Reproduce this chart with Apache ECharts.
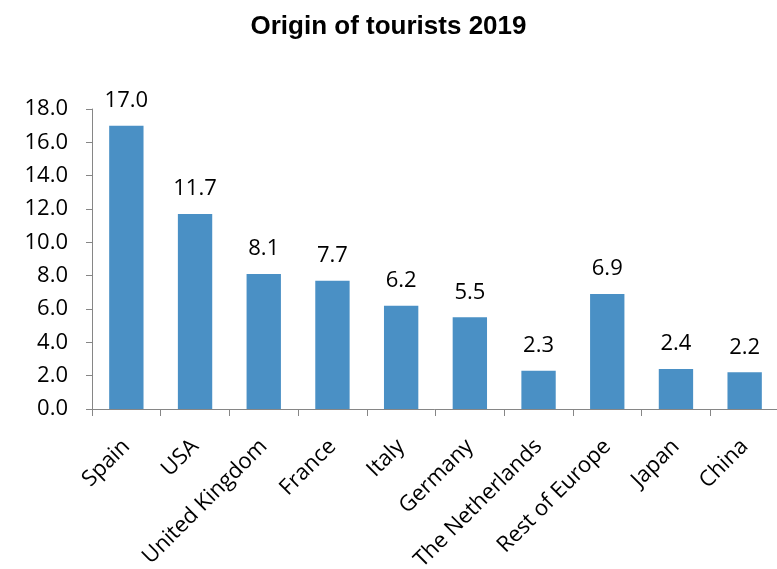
<!DOCTYPE html>
<html><head><meta charset="utf-8">
<script src="https://cdn.jsdelivr.net/npm/echarts@6/dist/echarts.min.js"></script>
<style>html,body{margin:0;padding:0;background:#fff}#c{width:777px;height:569px}</style>
</head><body><div id="c"></div>
<script>
const categories = ["Spain","USA","United Kingdom","France","Italy","Germany","The Netherlands","Rest of Europe","Japan","China"];
const values = [17.0, 11.7, 8.1, 7.7, 6.2, 5.5, 2.3, 6.9, 2.4, 2.2];
const titleText = "Origin of tourists 2019";
const yMin = 0, yMax = 18, yStep = 2;

const chart = echarts.init(document.getElementById('c'), null, {renderer:'canvas'});
const font = "'Open Sans', 'Lato', sans-serif";
chart.setOption({
  backgroundColor: '#ffffff',
  animation: false,
  title: {
    text: titleText, left: 'center', top: 9,
    textStyle: {fontFamily: "'Liberation Sans', Arial, sans-serif", fontWeight: 'bold', fontSize: 26, color: '#000'}
  },
  grid: {left: 92, right: -2, top: 109, bottom: 160, containLabel: false, outerBoundsMode: 'none'},
  xAxis: {
    type: 'category', data: categories,
    axisLine: {lineStyle: {color: '#868686', width: 1}},
    axisTick: {show: true, length: 7, lineStyle: {color: '#868686'}, alignWithLabel: false},
    axisLabel: {rotate: 45, interval: 0, fontFamily: font, fontSize: 22, color: '#000', margin: 34}
  },
  yAxis: {
    type: 'value', min: yMin, max: yMax, interval: yStep,
    splitLine: {show: false},
    axisLine: {show: true, lineStyle: {color: '#868686', width: 1}},
    axisTick: {show: true, length: 6, lineStyle: {color: '#868686'}},
    axisLabel: {fontFamily: font, fontSize: 22, color: '#000', margin: 24, formatter: v => v.toFixed(1)}
  },
  series: [{
    type: 'bar', data: values, barCategoryGap: '50%',
    itemStyle: {color: '#4A90C5'},
    label: {show: true, position: 'top', distance: 14, fontFamily: font, fontSize: 22, color: '#000', formatter: p => p.value.toFixed(1)}
  }]
});
</script></body></html>
